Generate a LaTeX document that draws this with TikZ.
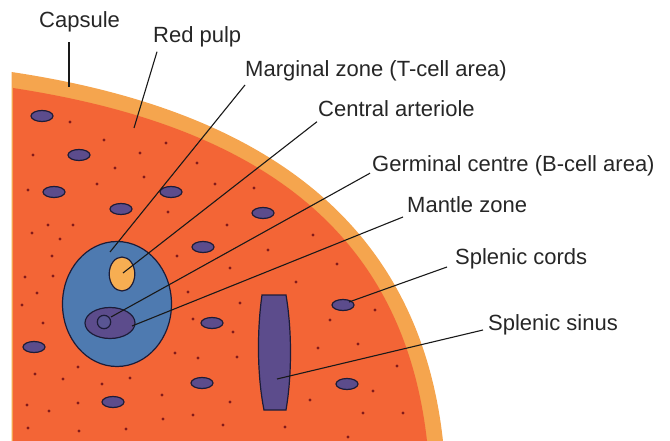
\documentclass[tikz,border=0pt]{standalone}
\usepackage{fontspec}
\setmainfont{Liberation Sans}
\definecolor{capsulecol}{RGB}{245,165,78}
\definecolor{pulpred}{RGB}{243,101,54}
\definecolor{pulpblue}{RGB}{78,122,176}
\definecolor{cellpurple}{RGB}{92,76,140}
\definecolor{arteriolecol}{RGB}{247,174,82}
\definecolor{dotred}{RGB}{130,26,26}
\definecolor{edgecol}{RGB}{28,28,56}
\tikzset{
    lbl/.style={anchor=base west, inner sep=0pt, text=black!85, font=\fontsize{22}{24}\selectfont},
    lead/.style={draw=black!90, line width=1.1pt},
    edged/.style={draw=edgecol, line width=1.2pt},
    cell/.style={edged, fill=cellpurple},
}
\begin{document}
\begin{tikzpicture}[x=1pt, y=-1pt]
    \useasboundingbox (0,0) rectangle (670,441);
    % capsule, then the red pulp inside it
    \fill[capsulecol] (11.5,72) .. controls (262,109.5) and (418.8,221) .. (443,441) -- (11.5,441) -- cycle;
    \fill[pulpred] (13,88) .. controls (255,125) and (403,228) .. (427,441) -- (13,441) -- cycle;
    % scattered dots
    \foreach \x/\y in {70/122,104/140,33/155,140/153,166/143,197/163,115/168,144/177,97/184,28/190,
        215/184,254/188,168/212,48/225,73/225,32/233,60/239,227/225,313/235,52/256,177/256,268/250,
        25/277,53/276,230/268,296/282,37/293,188/292,240/303,22/305,43/323,193/319,233/332,330/320,
        175/353,198/358,237/357,318/348,78/367,35/374,63/379,130/378,102/384,162/395,230/402,310/400,
        27/405,49/411,78/403,163/419,193/415,223/425,285/427,28/428,79/431,126/429,
        337/264,375/310,358/344,397/366,373/391,363/413,403/413,348/437}
        \fill[dotred] (\x,\y) circle (1.6);
    % cells in the cords
    \foreach \x/\y in {42/116,79/155,54/192,171/192,121/209,263/213,203/247,212/323,
        34/347,202/383,113/402,343/305,347/384}
        \draw[cell] (\x,\y) ellipse (11 and 5.5);
    % white pulp
    \draw[edged, fill=pulpblue] (117,304) ellipse (54.5 and 62.5);
    \draw[edged, fill=arteriolecol] (122,274) ellipse (12.8 and 17);
    \draw[cell] (110,323) ellipse (25 and 15.5);
    \draw[edged, fill=cellpurple!80!pulpblue] (104,322) circle (6.7);
    % sinus
    \draw[cell] (262,295) -- (286,295) .. controls (292,330) and (292,375) .. (286,410)
        -- (264,410) .. controls (257,375) and (257,330) .. (262,295) -- cycle;

    \coordinate (capsule-end) at (69,87);
    \coordinate (redpulp-end) at (134,128);
    \coordinate (marginal-end) at (110,252);
    \coordinate (arteriole-end) at (123,273);
    \coordinate (germinal-end) at (111,317);
    \coordinate (mantle-end) at (132,326);
    \coordinate (cords-end) at (349,302);
    \coordinate (sinus-end) at (277,379);

    \node[lbl] (capsule) at (39,27.3) {Capsule};
    \node[lbl] (redpulp) at (153,42.7) {Red pulp};
    \node[lbl] (marginal) at (245,77) {Marginal zone (T-cell area)};
    \node[lbl] (arteriole) at (318,116.7) {Central arteriole};
    \node[lbl] (germinal) at (372,171.7) {Germinal centre (B-cell area)};
    \node[lbl] (mantle) at (407,213) {Mantle zone};
    \node[lbl] (cords) at (455,264) {Splenic cords};
    \node[lbl] (sinus) at (488,330) {Splenic sinus};

    \draw[lead] ([shift={(30,15)}]capsule.base west) -- (capsule-end);
    \draw[lead] ([shift={(4,9)}]redpulp.base west) -- (redpulp-end);
    \draw[lead] ([shift={(0,8)}]marginal.base west) -- (marginal-end);
    \draw[lead] ([shift={(-1,5)}]arteriole.base west) -- (arteriole-end);
    \draw[lead] ([shift={(-2,1.5)}]germinal.base west) -- (germinal-end);
    \draw[lead] ([shift={(-4,4)}]mantle.base west) -- (mantle-end);
    \draw[lead] ([shift={(-8,3)}]cords.base west) -- (cords-end);
    \draw[lead] ([shift={(-5,0)}]sinus.base west) -- (sinus-end);
\end{tikzpicture}
\end{document}
